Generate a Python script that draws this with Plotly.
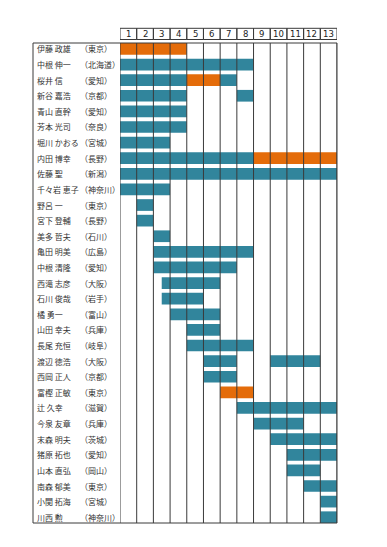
import plotly.graph_objects as go

names = ["伊藤 政雄", "中根 伸一", "桜井 信", "新谷 嘉浩", "青山 直幹", "芳本 光司", "堀川 かおる",
         "内田 博幸", "佐藤 聖", "千々岩 恵子", "野呂 一", "宮下 登輔", "美多 哲夫", "亀田 明美",
         "中根 清隆", "西滝 志彦", "石川 俊哉", "橘 勇一", "山田 幸夫", "長尾 充恒", "渡辺 徳浩",
         "西岡 正人", "富樫 正敏", "辻 久幸", "今泉 友章", "末森 明夫", "猪原 拓也", "山本 直弘",
         "南森 郁美", "小関 拓海", "川西 勲"]
prefs = ["（東京）", "（北海道）", "（愛知）", "（京都）", "（愛知）", "（奈良）", "（宮城）",
         "（長野）", "（新潟）", "（神奈川）", "（東京）", "（長野）", "（石川）", "（広島）",
         "（愛知）", "（大阪）", "（岩手）", "（富山）", "（兵庫）", "（岐阜）", "（大阪）",
         "（京都）", "（東京）", "（滋賀）", "（兵庫）", "（茨城）", "（愛知）", "（岡山）",
         "（東京）", "（宮城）", "（神奈川）"]
columns = [str(i) for i in range(1, 14)]

# segments: row index, start, end (in column units), kind
seg_row = [0, 1, 2, 2, 2, 3, 3, 4, 5, 6, 7, 7, 8, 9, 10, 11, 12, 13, 14, 15, 16, 17, 18, 19,
           20, 20, 21, 22, 23, 24, 25, 26, 27, 28, 29, 30]
seg_start = [0, 0, 0, 4, 6, 0, 7, 0, 0, 0, 0, 8, 0, 0, 1, 1, 2, 2, 2, 2.5, 2.5, 3, 4, 4,
             5, 9, 5, 6, 7, 8, 9, 10, 10, 11, 12, 12]
seg_end = [4, 8, 4, 6, 7, 4, 8, 4, 4, 3, 8, 13, 13, 3, 2, 2, 3, 8, 7, 6, 5, 6, 6, 8,
           7, 12, 7, 8, 13, 11, 13, 13, 12, 13, 13, 13]
seg_kind = ["o", "t", "t", "o", "t", "t", "t", "t", "t", "t", "t", "o", "t", "t", "t", "t", "t", "t",
            "t", "t", "t", "t", "t", "t", "t", "t", "t", "o", "t", "t", "t", "t", "t", "t", "t", "t"]

colors = {"t": "#31859C", "o": "#E46C0A"}

fig = go.Figure()
for kind in ["t", "o"]:
    idx = [i for i, k in enumerate(seg_kind) if k == kind]
    fig.add_trace(go.Bar(
        orientation="h",
        y=[seg_row[i] for i in idx],
        base=[seg_start[i] for i in idx],
        x=[seg_end[i] - seg_start[i] for i in idx],
        width=0.75,
        marker=dict(color=colors[kind], line=dict(width=0)),
        showlegend=False,
        hoverinfo="skip",
    ))

n_rows = len(names)
n_cols = len(columns)
OFF = 8  # page body margin
W, H = 371, 531
L = 120 - OFF
T = 43 - OFF
R = W - (337 - OFF)
B = H - (523 - OFF)
pw = W - L - R
ph = H - T - B

def px_to_paper_x(px):
    return (px - OFF - L) / pw

def py_to_paper_y(py):
    return (H - B - (py - OFF)) / ph

shapes = []
line_col = "#3a3a3a"
for k in range(0, n_cols + 1):
    shapes.append(dict(type="line", xref="x", yref="paper", x0=k, x1=k, y0=0, y1=1,
                       line=dict(color=line_col, width=1), layer="above"))
shapes.append(dict(type="rect", xref="paper", yref="paper",
                   x0=px_to_paper_x(33), x1=1, y0=0, y1=1,
                   line=dict(color=line_col, width=1), layer="above"))
hy0 = py_to_paper_y(39.5)
hy1 = py_to_paper_y(28.3)
annotations = []
for k, lab in enumerate(columns):
    shapes.append(dict(type="rect", xref="x", yref="paper", x0=k, x1=k + 1, y0=hy0, y1=hy1,
                       line=dict(color=line_col, width=1), layer="above"))
    annotations.append(dict(x=k + 0.5, y=(hy0 + hy1) / 2, xref="x", yref="paper",
                            text=lab, showarrow=False, xanchor="center", yanchor="middle",
                            font=dict(family="DejaVu Sans", size=8.5, color="#222")))

for i, (nm, pf) in enumerate(zip(names, prefs)):
    annotations.append(dict(x=px_to_paper_x(35), y=i, xref="paper", yref="y", text=nm,
                            showarrow=False, xanchor="left", yanchor="middle",
                            font=dict(family="Noto Sans CJK JP", size=8, color="#333")))
    annotations.append(dict(x=px_to_paper_x(78), y=i, xref="paper", yref="y", text=pf,
                            showarrow=False, xanchor="left", yanchor="middle",
                            font=dict(family="Noto Sans CJK JP", size=8, color="#333")))

fig.update_layout(
    width=W, height=H,
    margin=dict(l=L, r=R, t=T, b=B, pad=0),
    paper_bgcolor="white", plot_bgcolor="white",
    barmode="overlay",
    xaxis=dict(range=[0, n_cols], visible=False, fixedrange=True),
    yaxis=dict(range=[n_rows - 1 + 0.37, -0.38], visible=False, fixedrange=True),
    shapes=shapes,
    annotations=annotations,
)

fig.write_html("out.html")
